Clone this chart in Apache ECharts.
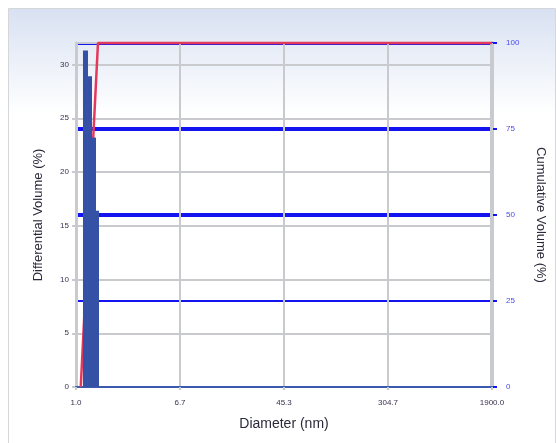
<!DOCTYPE html>
<html>
<head>
<meta charset="utf-8">
<style>
  html, body { margin: 0; padding: 0; background: #ffffff; }
  #chart { width: 556px; height: 443px; }
</style>
<script src="https://cdn.jsdelivr.net/npm/echarts@6/dist/echarts.min.js"></script>
</head>
<body>
<div id="chart"></div>
<script>
// Size distribution: bin edges (nm) and differential volume (%)
var binLow = [1.135, 1.243, 1.337, 1.437];
var binHigh = [1.243, 1.337, 1.437, 1.518];
var diffVolume = [31.3, 28.9, 23.2, 16.4];

// Cumulative volume curve (diameter nm, %)
var cumDiameter = [1.09, 1.49, 1900];
var cumVolume = [0, 100, 100];

// Percentile reference lines on the cumulative axis
var refLevels = [100, 75, 50, 25];
var refWidths = [3, 4, 4, 2];

// Diameter tick labels
var xTickLabels = ['1.0', '6.7', '45.3', '304.7', '1900.0'];
var xMin = 1, xMax = 1900;
var logBase = Math.pow(xMax / xMin, 1 / 4);

var chart = echarts.init(document.getElementById('chart'), null, { renderer: 'canvas' });

var barData = diffVolume.map(function (v, i) { return [binLow[i], binHigh[i], v]; });
var cumData = cumDiameter.map(function (d, i) { return [d, cumVolume[i]]; });

var refLines = refLevels.map(function (lv, i) {
  return {
    yAxis: lv,
    lineStyle: { color: '#1414f0', width: refWidths[i], type: 'solid' }
  };
});

var option = {
  animation: false,
  backgroundColor: 'transparent',
  graphic: [{
    type: 'rect',
    z: -10,
    shape: { x: 8.5, y: 8.5, width: 547, height: 440 },
    style: {
      fill: new echarts.graphic.LinearGradient(0, 0, 0, 1, [
        { offset: 0, color: '#d8e1f2' },
        { offset: 0.24, color: '#ffffff' },
        { offset: 1, color: '#ffffff' }
      ]),
      stroke: '#d4d6da',
      lineWidth: 1
    }
  }],
  grid: { left: 76, right: 64, top: 43, bottom: 56, containLabel: false },
  xAxis: {
    type: 'log',
    logBase: logBase,
    min: xMin,
    max: xMax,
    z: 3,
    name: 'Diameter (nm)',
    nameLocation: 'middle',
    nameGap: 30,
    nameTextStyle: { fontFamily: 'Liberation Sans', fontSize: 14, color: '#2a2a3a' },
    axisLine: { show: true, lineStyle: { color: '#3a5ab0', width: 2 } },
    axisTick: { show: true, length: 3, lineStyle: { color: '#c4c7cc', width: 2 } },
    axisLabel: {
      fontFamily: 'Liberation Sans', fontSize: 8, color: '#3a3050', margin: 12,
      formatter: function (v) {
        var k = Math.round(Math.log(v) / Math.log(logBase));
        return xTickLabels[k] !== undefined ? xTickLabels[k] : '';
      }
    },
    splitLine: { show: true, lineStyle: { color: '#c8cacd', width: 2 } },
    minorTick: { show: false },
    minorSplitLine: { show: false }
  },
  yAxis: [{
    type: 'value',
    min: 0,
    max: 32,
    interval: 5,
    position: 'left',
    z: 2,
    name: 'Differential Volume (%)',
    nameLocation: 'middle',
    nameGap: 31,
    nameTextStyle: { fontFamily: 'Liberation Sans', fontSize: 13, color: '#2a2a3a' },
    axisLine: { show: true, lineStyle: { color: '#c8cbd0', width: 3 } },
    axisTick: { show: true, length: 4, lineStyle: { color: '#c8cacd', width: 2 } },
    axisLabel: {
      fontFamily: 'Liberation Sans', fontSize: 8, color: '#3a3050', margin: 7,
      showMaxLabel: false,
      formatter: function (v) { return v % 5 === 0 ? String(v) : ''; }
    },
    splitLine: { show: true, lineStyle: { color: '#c8cacd', width: 2 } }
  }, {
    type: 'value',
    min: 0,
    max: 100,
    interval: 25,
    position: 'right',
    z: 2,
    name: 'Cumulative Volume (%)',
    nameLocation: 'middle',
    nameRotate: -90,
    nameGap: 42,
    nameTextStyle: { fontFamily: 'Liberation Sans', fontSize: 13, color: '#2a2a3a' },
    axisLine: { show: true, lineStyle: { color: '#c8cbd0', width: 4 } },
    axisTick: { show: true, length: 5, lineStyle: { color: '#1414f0', width: 2 } },
    axisLabel: { fontFamily: 'Liberation Sans', fontSize: 8, color: '#4a4af0', margin: 14 },
    splitLine: { show: false }
  }],
  series: [{
    name: 'Reference',
    type: 'line',
    yAxisIndex: 1,
    data: [],
    z: 1,
    markLine: {
      silent: true,
      z: 1,
      symbol: ['none', 'none'],
      label: { show: false },
      data: refLines
    }
  }, {
    name: 'Cumulative Volume',
    type: 'line',
    yAxisIndex: 1,
    data: cumData,
    showSymbol: false,
    clip: false,
    z: 6,
    lineStyle: { color: '#e33a5c', width: 2.5 }
  }, {
    name: 'Differential Volume',
    type: 'custom',
    yAxisIndex: 0,
    z: 7,
    data: barData,
    encode: { x: [0, 1], y: 2 },
    renderItem: function (params, api) {
      var p0 = api.coord([api.value(0), 0]);
      var p1 = api.coord([api.value(1), api.value(2)]);
      return {
        type: 'rect',
        shape: { x: p0[0], y: p1[1], width: p1[0] - p0[0], height: p0[1] - p1[1] },
        style: { fill: '#3451a6' }
      };
    }
  }]
};

chart.setOption(option);
</script>
</body>
</html>
